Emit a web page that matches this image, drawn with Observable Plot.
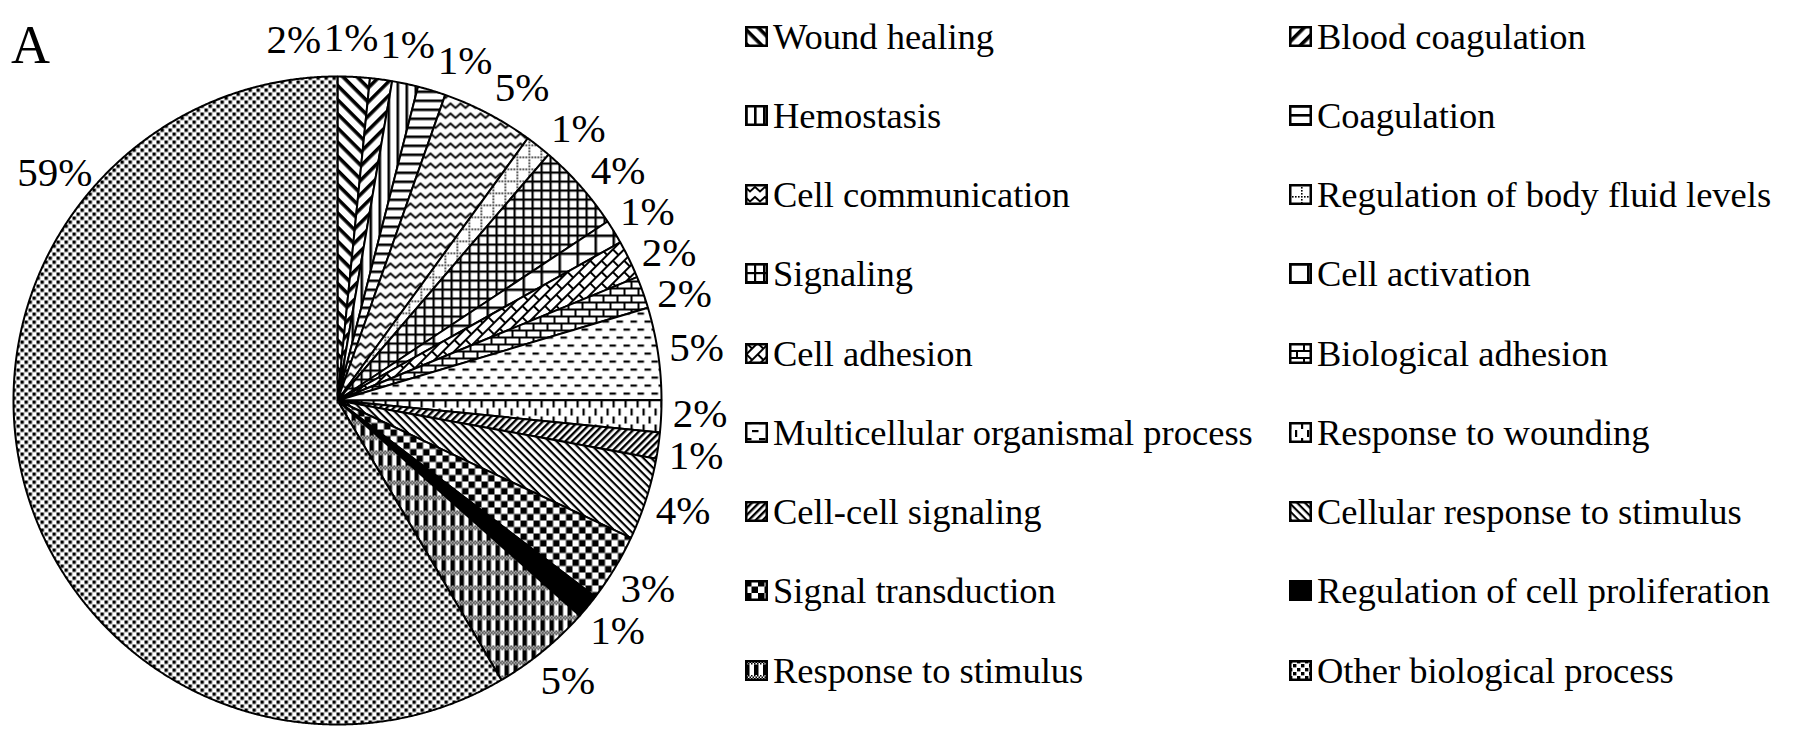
<!DOCTYPE html>
<html><head><meta charset="utf-8">
<script src="https://cdn.jsdelivr.net/npm/d3@7"></script>
<script src="https://cdn.jsdelivr.net/npm/@observablehq/plot@0.6"></script>
<style>
body{margin:0;background:#fff;font-family:"Liberation Serif","Times New Roman",serif;}
#wrap{position:relative;width:1795px;height:742px;overflow:hidden;background:#fff;}
#chart{position:absolute;left:0;top:0;}
#panel{position:absolute;left:11px;top:18px;font-size:54px;line-height:54px;color:#000;}
#legend{position:absolute;left:745px;top:-3.6px;display:grid;grid-template-columns:544px 506px;grid-auto-rows:79.25px;}
.item{display:flex;align-items:center;font-size:36.5px;white-space:nowrap;color:#000;}
.item svg{margin-right:5px;flex:none;}
</style>
</head><body>
<svg width="0" height="0" style="position:absolute">
<defs>
<pattern id="p0" patternUnits="userSpaceOnUse" width="10" height="10" patternTransform="rotate(45)"><rect width="10" height="10" fill="#fff"/><rect width="10" height="3.6" fill="#000"/></pattern>
<pattern id="p1" patternUnits="userSpaceOnUse" width="10" height="10" patternTransform="rotate(-45)"><rect width="10" height="10" fill="#fff"/><rect width="10" height="3.6" fill="#000"/></pattern>
<pattern id="p2" patternUnits="userSpaceOnUse" width="9" height="9"><rect width="9" height="9" fill="#fff"/><rect width="2.6" height="9" fill="#000"/></pattern>
<pattern id="p3" patternUnits="userSpaceOnUse" width="9" height="9"><rect width="9" height="9" fill="#fff"/><rect width="9" height="2.6" fill="#000"/></pattern>
<pattern id="p4" patternUnits="userSpaceOnUse" width="10" height="10"><rect width="10" height="10" fill="#fff"/><path d="M-2.5,0.75 L0,3 L5,7.5 L10,3 L12.5,0.75" fill="none" stroke="#000" stroke-width="2"/></pattern>
<pattern id="p5" patternUnits="userSpaceOnUse" width="12" height="12"><rect width="12" height="12" fill="#fff"/><rect x="0" y="0" width="1.6" height="1.6" fill="#000"/><rect x="3" y="0" width="1.6" height="1.6" fill="#000"/><rect x="6" y="0" width="1.6" height="1.6" fill="#000"/><rect x="9" y="0" width="1.6" height="1.6" fill="#000"/><rect x="0" y="3" width="1.6" height="1.6" fill="#000"/><rect x="0" y="6" width="1.6" height="1.6" fill="#000"/><rect x="0" y="9" width="1.6" height="1.6" fill="#000"/></pattern>
<pattern id="p6" patternUnits="userSpaceOnUse" width="9" height="9"><rect width="9" height="9" fill="#fff"/><rect width="9" height="2.2" fill="#000"/><rect width="2.2" height="9" fill="#000"/></pattern>
<pattern id="p7" patternUnits="userSpaceOnUse" width="18" height="18"><rect width="18" height="18" fill="#fff"/><rect width="18" height="2.5" fill="#000"/><rect width="2.5" height="18" fill="#000"/></pattern>
<pattern id="p8" patternUnits="userSpaceOnUse" width="16" height="16" patternTransform="rotate(-45)"><rect width="16" height="16" fill="#fff"/><rect y="0" width="16" height="2" fill="#000"/><rect y="8" width="16" height="2" fill="#000"/><rect x="0" y="0" width="2" height="8" fill="#000"/><rect x="8" y="8" width="2" height="8" fill="#000"/></pattern>
<pattern id="p9" patternUnits="userSpaceOnUse" width="14" height="14"><rect width="14" height="14" fill="#fff"/><rect y="0" width="14" height="2" fill="#000"/><rect y="7" width="14" height="2" fill="#000"/><rect x="0" y="0" width="2" height="7" fill="#000"/><rect x="7" y="7" width="2" height="7" fill="#000"/></pattern>
<pattern id="p10" patternUnits="userSpaceOnUse" width="14" height="16"><rect width="14" height="16" fill="#fff"/><rect x="0" y="0" width="6.5" height="2.2" fill="#000"/><rect x="7" y="8" width="6.5" height="2.2" fill="#000"/></pattern>
<pattern id="p11" patternUnits="userSpaceOnUse" width="12" height="16"><rect width="12" height="16" fill="#fff"/><rect x="0" y="0" width="2.2" height="7" fill="#000"/><rect x="6" y="8" width="2.2" height="7" fill="#000"/></pattern>
<pattern id="p12" patternUnits="userSpaceOnUse" width="5" height="5" patternTransform="rotate(-45)"><rect width="5" height="5" fill="#fff"/><rect width="5" height="2.4" fill="#000"/></pattern>
<pattern id="p13" patternUnits="userSpaceOnUse" width="5.5" height="5.5" patternTransform="rotate(45)"><rect width="5.5" height="5.5" fill="#fff"/><rect width="5.5" height="2.1" fill="#000"/></pattern>
<pattern id="p14" patternUnits="userSpaceOnUse" width="13" height="13"><rect width="13" height="13" fill="#fff"/><rect width="6.5" height="6.5" fill="#000"/><rect x="6.5" y="6.5" width="6.5" height="6.5" fill="#000"/></pattern>
<pattern id="p15" patternUnits="userSpaceOnUse" width="4" height="4"><rect width="4" height="4" fill="#000"/></pattern>
<pattern id="p16" patternUnits="userSpaceOnUse" width="9" height="15"><rect width="9" height="15" fill="#fff"/><rect x="0" y="4.5" width="4.5" height="10.5" fill="#000"/><rect x="0" y="0" width="1.5" height="1.5" fill="#000"/><rect x="3" y="0" width="1.5" height="1.5" fill="#000"/><rect x="6" y="0" width="1.5" height="1.5" fill="#000"/><rect x="1.5" y="1.5" width="1.5" height="1.5" fill="#000"/><rect x="4.5" y="1.5" width="1.5" height="1.5" fill="#000"/><rect x="7.5" y="1.5" width="1.5" height="1.5" fill="#000"/><rect x="0" y="3" width="1.5" height="1.5" fill="#000"/><rect x="3" y="3" width="1.5" height="1.5" fill="#000"/><rect x="6" y="3" width="1.5" height="1.5" fill="#000"/></pattern>
<pattern id="p17" patternUnits="userSpaceOnUse" width="8" height="8"><rect width="8" height="8" fill="#fff"/><rect x="0" y="0" width="3.4" height="3.4" fill="#000"/><rect x="4" y="4" width="3.4" height="3.4" fill="#000"/></pattern>
</defs>
</svg>
<div id="wrap">
  <div id="chart"></div>
  <div id="panel">A</div>
  <div id="legend"></div>
</div>
<script>
// ---- data ----
const categories = [
  "Wound healing", "Blood coagulation", "Hemostasis", "Coagulation",
  "Cell communication", "Regulation of body fluid levels", "Signaling", "Cell activation",
  "Cell adhesion", "Biological adhesion", "Multicellular organismal process", "Response to wounding",
  "Cell-cell signaling", "Cellular response to stimulus", "Signal transduction", "Regulation of cell proliferation",
  "Response to stimulus", "Other biological process"
];
const values = [1.6, 1.1, 1.3, 1.4, 4.6, 1.3, 4.4, 1.2, 1.9, 1.6, 4.6, 1.6, 1.3, 4.1, 3.4, 1.2, 5.0, 58.5];

// ---- layout ----
const W = 745, H = 742, CX = 337, CY = 400, R = 324, FS = 41;
const deg = Math.PI / 180;

const total = d3.sum(values);
let cum = 0;
const slices = categories.map((name, i) => {
  const a0 = cum / total * 2 * Math.PI; cum += values[i];
  const a1 = cum / total * 2 * Math.PI;
  return {name, i, value: values[i], a0, a1, mid: (a0 + a1) / 2};
});

function slicePoints(s) {
  const pts = [{x: 0, y: 0}];
  const n = Math.max(2, Math.ceil((s.a1 - s.a0) / (0.25 * deg)));
  for (let k = 0; k <= n; k++) {
    const a = s.a0 + (s.a1 - s.a0) * k / n;
    pts.push({x: Math.sin(a), y: Math.cos(a)});
  }
  return pts;
}

// ---- label placement (mid-angle, then simple collision relaxation) ----
const labels = slices.map(s => ({text: Math.round(s.value) + "%", ang: s.mid, rad: 1.12}));
function textW(t) { let w = 0; for (const c of t) w += c === "%" ? 0.833 : 0.5; return w * FS; }
function bbox(l) {
  const px = CX + R * l.rad * Math.sin(l.ang), py = CY - R * l.rad * Math.cos(l.ang);
  const w = textW(l.text) + 2, h = 1.0 * FS;
  return [px - w / 2, py - h / 2, px + w / 2, py + h / 2];
}
function inCanvas(b) { return b[0] >= 14 && b[1] >= -4 && b[2] <= W - 2 && b[3] <= H - 2; }
function overlap(a, b) { return a[0] < b[2] && b[0] < a[2] && a[1] < b[3] && b[1] < a[3]; }
for (const l of labels) {
  let k = 0;
  while (!inCanvas(bbox(l)) && k < 360) { l.ang += (Math.sin(l.ang) < 0 ? 1 : -1) * deg; k++; }
}
const ordered = labels.slice().sort((a, b) => a.ang - b.ang);
for (let it = 0; it < 6000; it++) {
  let moved = false;
  for (let j = 0; j < ordered.length - 1; j++) {
    const a = ordered[j], b = ordered[j + 1];
    if (overlap(bbox(a), bbox(b))) { a.ang -= 0.1 * deg; b.ang += 0.1 * deg; moved = true; }
  }
  if (!moved) break;
}

// ---- chart ----
const sliceMarks = slices.map(s => Plot.line(slicePoints(s), {
  x: "x", y: "y", fill: `url(#p${s.i})`, stroke: "black", strokeWidth: 2,
  curve: "linear-closed", strokeLinejoin: "miter"
}));

const chart = Plot.plot({
  width: W, height: H, margin: 0,
  x: {domain: [-CX / R, (W - CX) / R], axis: null},
  y: {domain: [-(H - CY) / R, CY / R], axis: null},
  style: {fontFamily: "Liberation Serif", background: "transparent", overflow: "visible"},
  marks: [
    ...sliceMarks,
    Plot.text(labels, {
      x: d => d.rad * Math.sin(d.ang), y: d => d.rad * Math.cos(d.ang),
      text: "text", fontSize: FS, fontFamily: "Liberation Serif",
      textAnchor: "middle", lineAnchor: "middle", fill: "black"
    })
  ]
});
document.getElementById("chart").appendChild(chart);

// ---- legend ----
const legend = document.getElementById("legend");
categories.forEach((c, i) => {
  const div = document.createElement("div");
  div.className = "item";
  div.innerHTML = `<svg width="23" height="21"><rect x="1.25" y="1.25" width="20.5" height="18.5" fill="url(#p${i})" stroke="black" stroke-width="2.5"/></svg><span>${c}</span>`;
  legend.appendChild(div);
});
</script>
</body></html>
